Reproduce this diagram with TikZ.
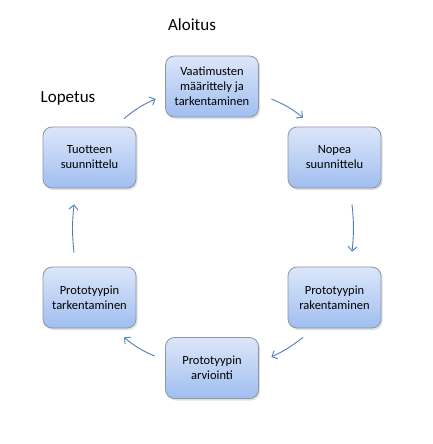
\documentclass[tikz,border=0pt]{standalone}
\usepackage{fontspec}
\setmainfont{Carlito}
\usetikzlibrary{arrows.meta,positioning,calc,shadows}
\definecolor{phasetop}{RGB}{220,230,249}
\definecolor{phasebot}{RGB}{160,190,240}
\definecolor{phaseline}{RGB}{140,150,165}
\definecolor{flowblue}{RGB}{79,129,189}

\begin{document}
\begin{tikzpicture}[x=1pt,y=1pt,>={Straight Barb[length=4.5pt,width=9pt]},
 phase/.style={draw=phaseline,line width=.8pt,rounded corners=9pt,minimum width=93pt,minimum height=61pt,align=center,inner sep=2pt,
  font=\fontsize{12.5}{15}\selectfont,top color=phasetop,bottom color=phasebot,
  general shadow={fill=black!12,shadow xshift=1.5pt,shadow yshift=-2pt}},
 flow/.style={->,draw=flowblue,line width=.9pt},
 endlabel/.style={font=\fontsize{17}{20}\selectfont}]
\fill[white] (0,0) rectangle (433,-444);
\node[phase] (vaat) at (212,-86.5) {Vaatimusten\\määrittely ja\\tarkentaminen};
\node[phase] (nopea) at (334.5,-157.5) {Nopea\\suunnittelu};
\node[phase] (rak) at (334.5,-297.5) {Prototyypin\\rakentaminen};
\node[phase] (arv) at (212,-368) {Prototyypin\\arviointi};
\node[phase] (tark) at (89.5,-297.5) {Prototyypin\\tarkentaminen};
\node[phase] (tuot) at (89.5,-157.5) {Tuotteen\\suunnittelu};
\node[endlabel] (alku) at (192,-25) {Aloitus};
\node[endlabel] (loppu) at (68,-98) {Lopetus};

\draw[flow] ([xshift=12.5pt,yshift=-12.5pt]vaat.east) to[bend left=8] ([xshift=-31.5pt,yshift=9pt]nopea.north);
\draw[flow] ([xshift=17.5pt,yshift=-16pt]nopea.south) to[bend left=6] ([xshift=17.5pt,yshift=15pt]rak.north);
\draw[flow] ([xshift=-31.5pt,yshift=-9pt]rak.south) to[bend left=6] ([xshift=12.5pt,yshift=11pt]arv.east);
\draw[flow] ([xshift=-10.5pt,yshift=12pt]arv.west) to[bend left=8] ([xshift=34.5pt,yshift=-9pt]tark.south);
\draw[flow] ([xshift=-15.5pt,yshift=14pt]tark.north) to[bend left=6] ([xshift=-15.5pt,yshift=-16pt]tuot.south);
\draw[flow] ([xshift=34.5pt,yshift=8pt]tuot.north) to[bend left=8] ([xshift=-9.5pt,yshift=-12.5pt]vaat.west);
\end{tikzpicture}
\end{document}
